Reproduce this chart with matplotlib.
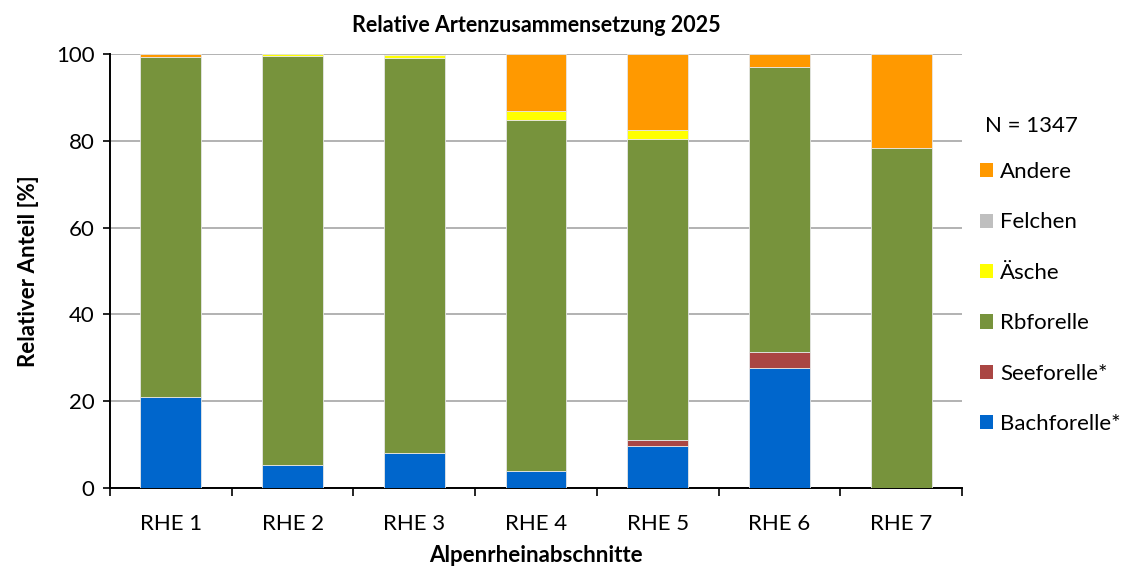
import matplotlib
matplotlib.use('Agg')
import matplotlib.pyplot as plt
import numpy as np

plt.rcParams['font.family'] = ['Lato', 'DejaVu Sans']

abschnitte = ['RHE 1', 'RHE 2', 'RHE 3', 'RHE 4', 'RHE 5', 'RHE 6', 'RHE 7']
bachforelle = [21.0, 5.2, 8.0, 3.9, 9.7, 27.7, 0.0]
seeforelle = [0.0, 0.0, 0.0, 0.0, 1.3, 3.6, 0.0]
rbforelle = [78.2, 94.3, 91.0, 80.9, 69.5, 65.7, 78.4]
aesche = [0.0, 0.5, 0.8, 2.0, 2.1, 0.0, 0.0]
felchen = [0.0, 0.0, 0.0, 0.0, 0.0, 0.0, 0.0]
andere = [0.8, 0.0, 0.0, 13.2, 17.4, 3.0, 21.6]

series = [
    ('Bachforelle*', bachforelle, '#0066CC'),
    ('Seeforelle*', seeforelle, '#AA4643'),
    ('Rbforelle', rbforelle, '#77933C'),
    ('Äsche', aesche, '#FFFF00'),
    ('Felchen', felchen, '#BFBFBF'),
    ('Andere', andere, '#FF9900'),
]

fig = plt.figure(figsize=(11.41, 5.70), dpi=100)
ax = fig.add_axes([110 / 1141, 82 / 570, 852 / 1141, 434 / 570])

x = np.arange(len(abschnitte))
bottom = np.zeros(len(abschnitte))
handles = []
for name, vals, col in series:
    v = np.array(vals)
    b = ax.bar(x, v, 0.5, bottom=bottom, color=col, edgecolor='#E6E6E6',
               linewidth=np.where(v > 0, 0.6, 0.0), label=name, zorder=3)
    handles.append(b)
    bottom += v

ax.set_xlim(-0.5, len(abschnitte) - 0.5)
ax.set_ylim(0, 100)
ax.set_yticks([0, 20, 40, 60, 80, 100])
ax.set_xticks(x)
ax.set_xticklabels(abschnitte)
ax.set_xticks(np.arange(-0.5, len(abschnitte)), minor=True)
ax.tick_params(axis='x', which='major', length=0, labelsize=16, pad=19)
ax.tick_params(axis='x', which='minor', length=6, width=1.2, direction='out')
ax.tick_params(axis='y', length=5, width=1.2, labelsize=16, direction='out',
               pad=6)

ax.grid(axis='y', color='#A6A6A6', linewidth=1.2, zorder=0)
for s in ['top', 'right']:
    ax.spines[s].set_visible(False)
ax.spines['left'].set_linewidth(1.4)
ax.spines['bottom'].set_linewidth(1.4)

ax.set_ylabel('Relativer Anteil [%]', fontsize=16, fontweight='bold', labelpad=12)
ax.set_xlabel('Alpenrheinabschnitte', fontsize=16, fontweight='bold', labelpad=8)
ax.set_title('Relative Artenzusammensetzung 2025', fontsize=15.5,
             fontweight='bold', pad=16)

fig.text(985 / 1141, 1 - 126 / 570, 'N = 1347', fontsize=16,
         ha='left', va='center')

leg = fig.legend(handles[::-1], [s[0] for s in series][::-1],
                 loc='upper left',
                 bbox_to_anchor=(960 / 1141, 1 - 142 / 570),
                 frameon=False, fontsize=16,
                 handlelength=0.6, handleheight=0.6, handletextpad=0.3,
                 labelspacing=1.37)
for h in leg.legend_handles:
    h.set_edgecolor('none')

fig.savefig('out.png', dpi=100, facecolor='white')
